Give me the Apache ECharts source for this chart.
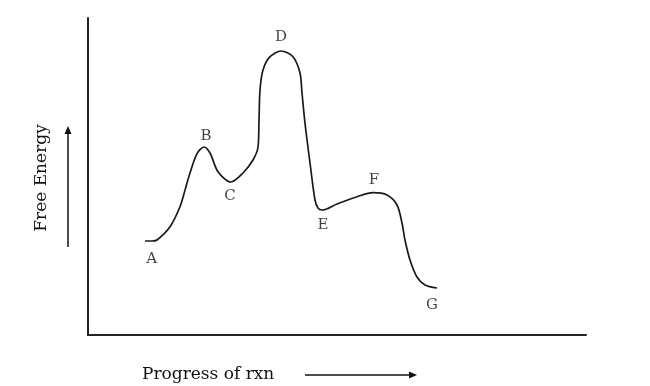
<!DOCTYPE html>
<html>
<head>
<meta charset="utf-8">
<script src="https://cdn.jsdelivr.net/npm/echarts@6/dist/echarts.min.js"></script>
<style>
html,body{margin:0;padding:0;background:#fff;}
#chart{width:650px;height:386px;}
</style>
</head>
<body>
<div id="chart"></div>
<script>
// Reaction progress (x) and free energy (y), arbitrary units 0-100
const progress = [11.45,12.85,13.86,16.47,18.47,19.48,20.48,21.89,23.29,24.50,26.10,28.71,31.12,33.13,34.14,34.34,34.54,35.14,36.55,38.76,41.16,42.57,42.97,43.57,44.58,45.58,46.18,46.99,50.00,54.02,57.23,60.04,62.05,63.05,63.65,64.66,66.06,67.67,70.08];
const energy = [29.65,29.65,29.97,34.16,40.47,45.70,51.10,57.20,59.31,57.41,51.51,48.26,51.10,55.21,59.31,67.82,77.29,83.60,87.79,89.59,87.79,82.65,76.34,66.88,54.26,42.59,40.06,39.43,41.32,43.63,44.89,44.16,41.01,35.33,29.97,23.66,18.30,15.77,14.83];
// Point labels and their positions
const labelNames = ['A','B','C','D','E','F','G'];
const labelX = [12.79,23.69,28.51,38.76,47.19,57.43,69.08];
const labelY = [23.82,62.78,43.85,94.01,34.70,48.90,9.46];
const xTitle = 'Progress of rxn';
const yTitle = 'Free Energy';

const FONT = 'DejaVu Serif';
const chart = echarts.init(document.getElementById('chart'));
const axisCommon = {
  type: 'value', min: 0, max: 100,
  axisLine: {show: true, onZero: false, lineStyle: {color: '#222', width: 2}},
  axisTick: {show: false}, axisLabel: {show: false}, splitLine: {show: false}
};
chart.setOption({
  animation: false,
  backgroundColor: '#fff',
  grid: {left: 88, right: 64, top: 18, bottom: 51},
  xAxis: axisCommon,
  yAxis: axisCommon,
  series: [
    {
      type: 'line',
      data: progress.map((x, i) => [x, energy[i]]),
      smooth: 0.3,
      symbol: 'none',
      lineStyle: {color: '#1a1a1a', width: 1.7}
    },
    {
      type: 'scatter',
      symbolSize: 0,
      data: labelNames.map((n, i) => ({name: n, value: [labelX[i], labelY[i]]})),
      label: {
        show: true, position: 'inside', formatter: '{b}',
        color: '#111', fontFamily: FONT, fontSize: 15
      }
    }
  ],
  graphic: [
    {type: 'text', x: 42, y: 178, rotation: Math.PI / 2,
     style: {text: yTitle, font: '17px "' + FONT + '"', fill: '#111', align: 'center', verticalAlign: 'middle'}},
    {type: 'line', shape: {x1: 68, y1: 247, x2: 68, y2: 132}, style: {stroke: '#111', lineWidth: 1.5}},
    {type: 'polygon', shape: {points: [[68, 126], [64.5, 134], [71.5, 134]]}, style: {fill: '#111'}},
    {type: 'text', x: 142, y: 375,
     style: {text: xTitle, font: '17px "' + FONT + '"', fill: '#111', align: 'left', verticalAlign: 'middle'}},
    {type: 'line', shape: {x1: 305, y1: 375, x2: 410, y2: 375}, style: {stroke: '#111', lineWidth: 1.5}},
    {type: 'polygon', shape: {points: [[417, 375], [409, 371.5], [409, 378.5]]}, style: {fill: '#111'}}
  ]
});
</script>
</body>
</html>
